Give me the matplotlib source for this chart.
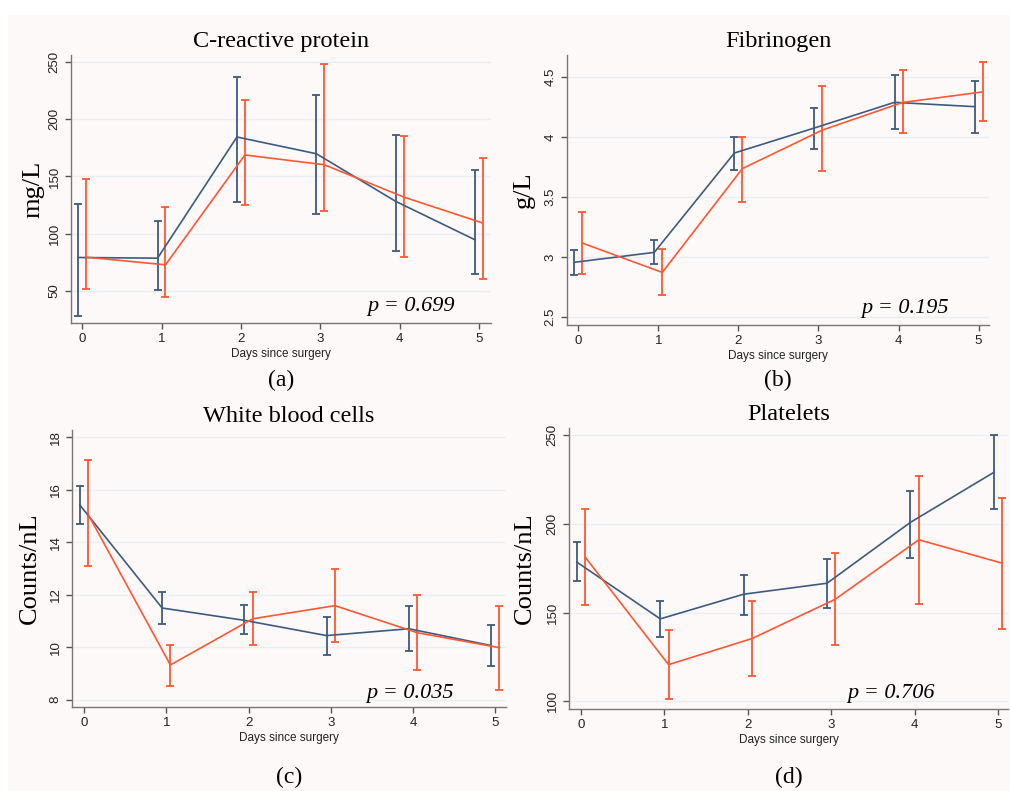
import numpy as np
import matplotlib.pyplot as plt
from matplotlib.patches import Rectangle

days = np.arange(6)

# C-reactive protein (mg/L)
crp_blue = [79.2, 78.6, 184.4, 169.8, 128.2, 94.6]
crp_blue_lo = [28.5, 51.2, 127.6, 117.1, 85.3, 65.2]
crp_blue_hi = [126.1, 110.7, 236.6, 221.4, 186.2, 155.8]
crp_red = [79.5, 72.8, 168.7, 160.2, 132.0, 109.2]
crp_red_lo = [51.8, 44.5, 125.2, 119.4, 79.2, 60.2]
crp_red_hi = [148.0, 123.5, 216.5, 248.5, 185.0, 166.3]

# Fibrinogen (g/L)
fib_blue = [2.956, 3.039, 3.868, 4.077, 4.291, 4.255]
fib_blue_lo = [2.848, 2.939, 3.724, 3.899, 4.066, 4.038]
fib_blue_hi = [3.059, 3.140, 4.005, 4.244, 4.519, 4.469]
fib_red = [3.117, 2.872, 3.738, 4.060, 4.290, 4.378]
fib_red_lo = [2.861, 2.681, 3.462, 3.718, 4.033, 4.133]
fib_red_hi = [3.376, 3.064, 4.005, 4.428, 4.558, 4.625]

# White blood cells (Counts/nL)
wbc_blue = [15.41, 11.49, 11.02, 10.44, 10.70, 10.06]
wbc_blue_lo = [14.69, 10.88, 10.49, 9.70, 9.84, 9.29]
wbc_blue_hi = [16.13, 12.10, 11.59, 11.15, 11.57, 10.84]
wbc_red = [15.06, 9.32, 11.08, 11.58, 10.55, 9.98]
wbc_red_lo = [13.09, 8.53, 10.08, 10.18, 9.14, 8.37]
wbc_red_hi = [17.11, 10.09, 12.10, 12.96, 11.97, 11.55]

# Platelets (Counts/nL)
plt_blue = [178.5, 146.5, 160.4, 166.6, 200.9, 229.1]
plt_blue_lo = [167.8, 136.3, 148.7, 152.9, 181.1, 208.2]
plt_blue_hi = [189.8, 156.3, 171.5, 180.4, 218.8, 250.0]
plt_red = [181.3, 120.7, 135.4, 157.6, 191.1, 177.9]
plt_red_lo = [154.6, 101.1, 114.3, 132.0, 154.8, 141.0]
plt_red_hi = [208.2, 140.1, 156.7, 183.9, 227.2, 214.6]

BLUE = '#3d5a80'
RED = '#ff5733'
SERIF = ['Liberation Serif', 'DejaVu Serif']
SANS = ['Liberation Sans', 'DejaVu Sans']

W, H = 1010, 791
fig = plt.figure(figsize=(W / 100, H / 100), dpi=100, facecolor='white')
fig.patches.append(Rectangle((8 / W, 0), 1 - 8 / W, 1 - 15 / H, transform=fig.transFigure,
                             facecolor='#fdf9f8', edgecolor='none', zorder=-10))

def px_axes(x0, y0, x1, y1):
    return fig.add_axes([x0 / W, 1 - y1 / H, (x1 - x0) / W, (y1 - y0) / H])

panels = [
    dict(box=(71, 55, 491, 323), title='C-reactive protein', ylabel='mg/L', letter='(a)',
         blue=(crp_blue, crp_blue_lo, crp_blue_hi), red=(crp_red, crp_red_lo, crp_red_hi),
         ylim=(22, 256), yticks=[50, 100, 150, 200, 250], yfmt=str,
         xlim=(-0.14, 5.15), p='0.699', ppos=(0.81, 0.06), ylx=44),
    dict(box=(567, 55, 989, 325), title='Fibrinogen', ylabel='g/L', letter='(b)',
         blue=(fib_blue, fib_blue_lo, fib_blue_hi), red=(fib_red, fib_red_lo, fib_red_hi),
         ylim=(2.433, 4.686), yticks=[2.5, 3, 3.5, 4, 4.5], yfmt=lambda v: f'{v:g}',
         xlim=(-0.14, 5.13), p='0.195', ppos=(0.80, 0.06), ylx=535),
    dict(box=(72, 430, 506, 707), title='White blood cells', ylabel='Counts/nL', letter='(c)',
         blue=(wbc_blue, wbc_blue_lo, wbc_blue_hi), red=(wbc_red, wbc_red_lo, wbc_red_hi),
         ylim=(7.72, 18.27), yticks=[8, 10, 12, 14, 16, 18], yfmt=str,
         xlim=(-0.146, 5.13), p='0.035', ppos=(0.78, 0.05), ylx=41),
    dict(box=(569, 428, 1008, 709), title='Platelets', ylabel='Counts/nL', letter='(d)',
         blue=(plt_blue, plt_blue_lo, plt_blue_hi), red=(plt_red, plt_red_lo, plt_red_hi),
         ylim=(95.7, 254.1), yticks=[100, 150, 200, 250], yfmt=str,
         xlim=(-0.144, 5.12), p='0.706', ppos=(0.733, 0.055), ylx=536),
]

for pn in panels:
    x0, y0, x1, y1 = pn['box']
    ax = px_axes(x0, y0, x1, y1)
    ax.set_facecolor('none')
    for (m, lo, hi), col, off in [(pn['blue'], BLUE, -0.05), (pn['red'], RED, 0.05)]:
        m = np.array(m); lo = np.array(lo); hi = np.array(hi)
        xs = days + off
        ax.errorbar(xs, m, yerr=[m - lo, hi - m], fmt='none', ecolor=col, elinewidth=1.3,
                    capsize=3, capthick=1.3, zorder=3)
        ax.plot(xs, m, color=col, lw=1.2, zorder=4)
    ax.set_xlim(*pn['xlim'])
    ax.set_ylim(*pn['ylim'])
    ax.set_xticks(days)
    ax.set_xticklabels([str(d) for d in days], family=SANS, fontsize=9.5)
    ax.set_yticks(pn['yticks'])
    ax.set_yticklabels([pn['yfmt'](v) for v in pn['yticks']], family=SANS, fontsize=9.5,
                       rotation=90, va='center')
    ax.grid(axis='y', color='#e8eef1', lw=1.0, zorder=0)
    ax.set_axisbelow(True)
    for s in ['top', 'right']:
        ax.spines[s].set_visible(False)
    for s in ['left', 'bottom']:
        ax.spines[s].set_color('#777777')
        ax.spines[s].set_linewidth(1.0)
    ax.tick_params(colors='#555555', length=4, width=1.0, labelcolor='#222222')
    ax.set_xlabel('Days since surgery', family=SANS, fontsize=8.5, labelpad=2, color='#222222')
    ax.set_ylabel(pn['ylabel'], family=SERIF, fontsize=19)
    ax.yaxis.set_label_coords((pn['ylx'] - x0) / (x1 - x0), 0.5)
    ax.set_title(pn['title'], family=SERIF, fontsize=17.5, pad=6)
    ax.text(pn['ppos'][0], pn['ppos'][1], 'p = ' + pn['p'], transform=ax.transAxes,
            ha='center', va='center', fontsize=16, family=SERIF, style='italic')
    fig.text((x0 + x1) / 2 / W, 1 - (380 if y0 < 200 else 777) / H, pn['letter'],
             ha='center', va='center', family=SERIF, fontsize=17)

fig.savefig('out.png', dpi=100, facecolor=fig.get_facecolor())
